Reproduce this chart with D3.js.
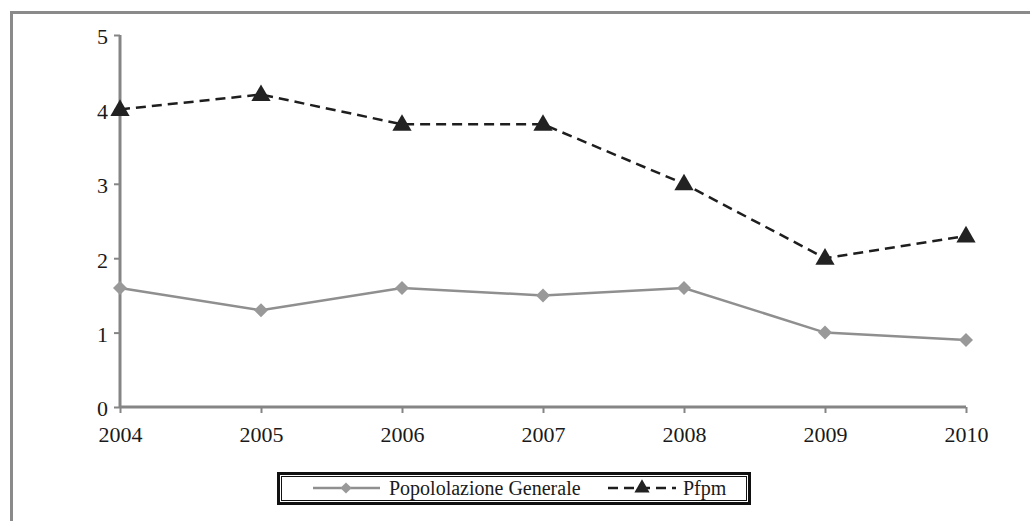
<!DOCTYPE html>
<html><head><meta charset="utf-8">
<script src="https://cdn.jsdelivr.net/npm/d3@7"></script>
<style>body{margin:0;background:#fff}svg{display:block}
text{font-family:"Liberation Serif","DejaVu Serif","Times New Roman",serif !important;}</style>
</head><body>
<svg id="c" width="1030" height="521"></svg>
<script>
const years = [2004, 2005, 2006, 2007, 2008, 2009, 2010];
const popolazione = [1.6, 1.3, 1.6, 1.5, 1.6, 1.0, 0.9];
const pfpm = [4.0, 4.2, 3.8, 3.8, 3.0, 2.0, 2.3];
const yTicks = [0, 1, 2, 3, 4, 5];
const seriesNames = ["Popololazione Generale", "Pfpm"];

const svg = d3.select("#c");

// outer frame
svg.append("rect").attr("x", 11.5).attr("y", 12.5).attr("width", 1040).attr("height", 540)
  .attr("fill", "#fff").attr("stroke", "#8a8a8a").attr("stroke-width", 3);

const x = d3.scaleLinear().domain([2004, 2010]).range([120, 966]);
const y = d3.scaleLinear().domain([0, 5]).range([407, 35]);

const axisColor = "#858585";
const ya = svg.append("g").attr("transform", "translate(120,0)")
  .call(d3.axisLeft(y).tickValues(yTicks).tickSize(6).tickPadding(6).tickFormat(d3.format("d")));
const xa = svg.append("g").attr("transform", "translate(0,407)")
  .call(d3.axisBottom(x).tickValues(years).tickSize(6).tickPadding(13).tickFormat(d3.format("d")));
[ya, xa].forEach(g => {
  g.select(".domain").attr("stroke", axisColor).attr("stroke-width", 3);
  g.selectAll(".tick line").attr("stroke", axisColor).attr("stroke-width", 2);
  g.selectAll("text").attr("font-size", 22).attr("fill", "#1a1a1a");
});
ya.selectAll("text").attr("dy", "0.4em");
ya.select(".domain").attr("d", "M0,35V407");
xa.select(".domain").attr("d", "M120,0H966");

const line = d3.line().x((d, i) => x(years[i])).y(d => y(d));

svg.append("path").datum(popolazione).attr("d", line)
  .attr("fill", "none").attr("stroke", "#8f8f8f").attr("stroke-width", 2.5);
svg.selectAll(".dia").data(popolazione).enter().append("path")
  .attr("d", d3.symbol().type(d3.symbolDiamond2).size(125))
  .attr("transform", (d, i) => `translate(${x(years[i])},${y(d)})`)
  .attr("fill", "#999");

svg.append("path").datum(pfpm).attr("d", line)
  .attr("fill", "none").attr("stroke", "#1e1e1e").attr("stroke-width", 2.5)
  .attr("stroke-dasharray", "10,6");
svg.selectAll(".tri").data(pfpm).enter().append("path")
  .attr("d", d3.symbol().type(d3.symbolTriangle).size(160))
  .attr("transform", (d, i) => `translate(${x(years[i])},${y(d) + 1})`)
  .attr("fill", "#222");

// legend
const lg = svg.append("g");
lg.append("rect").attr("x", 278.5).attr("y", 473.5).attr("width", 471).attr("height", 30)
  .attr("fill", "#fff").attr("stroke", "#111").attr("stroke-width", 3);
lg.append("rect").attr("x", 281.5).attr("y", 476.5).attr("width", 465).attr("height", 24)
  .attr("fill", "none").attr("stroke", "#111").attr("stroke-width", 1);
const ly = 488;
lg.append("line").attr("x1", 313).attr("x2", 380).attr("y1", ly).attr("y2", ly)
  .attr("stroke", "#8f8f8f").attr("stroke-width", 2.5);
lg.append("path").attr("d", d3.symbol().type(d3.symbolDiamond2).size(80))
  .attr("transform", `translate(346,${ly})`).attr("fill", "#999");
lg.append("text").attr("x", 389).attr("y", ly + 7).text(seriesNames[0])
  .attr("font-size", 20).attr("fill", "#1a1a1a");
lg.append("line").attr("x1", 608).attr("x2", 676).attr("y1", ly).attr("y2", ly)
  .attr("stroke", "#1e1e1e").attr("stroke-width", 2.5).attr("stroke-dasharray", "10,6");
lg.append("path").attr("d", d3.symbol().type(d3.symbolTriangle).size(100))
  .attr("transform", `translate(642,${ly})`).attr("fill", "#222");
lg.append("text").attr("x", 683).attr("y", ly + 7).text(seriesNames[1])
  .attr("font-size", 20).attr("fill", "#1a1a1a");
</script>
</body></html>
